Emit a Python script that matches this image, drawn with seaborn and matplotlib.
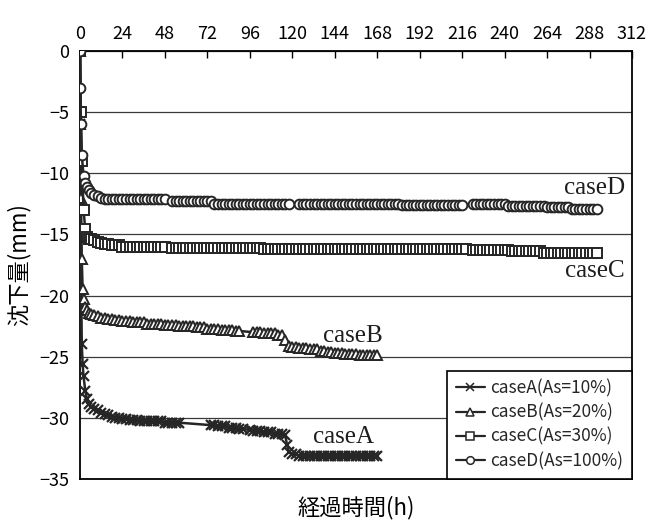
import numpy as np
import pandas as pd
import matplotlib
matplotlib.use("Agg")
import matplotlib.pyplot as plt
from matplotlib.lines import Line2D
import seaborn as sns

# ---- settlement records (time in hours, settlement in mm) ----
time_A = [0, 0.25, 0.5, 0.75, 1, 1.5, 2, 3, 4, 5, 6, 8,
          10, 12, 14, 16, 18, 20, 22, 24, 26, 28, 30, 32, 34, 36, 38, 40, 42, 44, 46, 48, 50, 52, 54, 56,
          74, 76, 78, 80, 82, 84, 86, 88, 90, 92,
          96, 98, 100, 102, 104, 106, 108, 110, 112, 114, 116,
          117, 118,
          120, 122, 124, 126, 128, 130, 132, 134, 136, 138, 140, 142, 144, 146, 148, 150, 152, 154, 156,
          158, 160, 162, 164, 166, 168]
settle_A = [0, -6, -13, -20, -24, -25.6, -26.6, -27.8, -28.5, -28.9, -29.1, -29.3,
            -29.4, -29.6, -29.7, -29.8, -29.9, -30.0, -30.0, -30.1, -30.1, -30.2, -30.2, -30.2,
            -30.3, -30.3, -30.3, -30.3, -30.3, -30.3, -30.3, -30.4, -30.4, -30.4, -30.4, -30.4,
            -30.6, -30.6, -30.7, -30.7, -30.7, -30.8, -30.8, -30.8, -30.9, -30.9,
            -31.0, -31.1, -31.1, -31.1, -31.2, -31.2, -31.2, -31.3, -31.3, -31.3, -31.4,
            -32.2, -32.8,
            -33.0, -33.0, -33.1, -33.1, -33.1, -33.1, -33.1, -33.1, -33.1, -33.1, -33.1, -33.1, -33.1,
            -33.1, -33.1, -33.1, -33.1, -33.1, -33.1, -33.1, -33.1, -33.1, -33.1, -33.1, -33.1]

time_B = [0, 0.25, 0.5, 1, 1.5, 2, 3, 4, 5, 6,
          8, 10, 12, 14, 16, 18, 20, 22, 24, 26, 28, 30, 32, 34, 36, 38, 40, 42, 44, 46, 48,
          50, 52, 54, 56, 58, 60, 62, 64, 66, 68, 70, 72, 74, 76, 78, 80, 82, 84, 86, 88, 90,
          98, 100, 102, 104, 106, 108, 110, 112, 114,
          116, 118,
          120, 122, 124, 126, 128, 130, 132, 134, 136, 138, 140, 142, 144, 146, 148, 150, 152, 154, 156,
          158, 160, 162, 164, 166, 168]
settle_B = [0, -6, -12, -17, -19.5, -20.3, -20.9, -21.2, -21.4, -21.5,
            -21.6, -21.7, -21.8, -21.8, -21.9, -21.9, -22.0, -22.0, -22.1, -22.1, -22.1, -22.2,
            -22.2, -22.2, -22.2, -22.3, -22.3, -22.3, -22.3, -22.3, -22.4,
            -22.4, -22.4, -22.4, -22.5, -22.5, -22.5, -22.5, -22.5, -22.6, -22.6, -22.6, -22.7,
            -22.7, -22.7, -22.7, -22.8, -22.8, -22.8, -22.8, -22.9, -22.9,
            -23.0, -23.0, -23.0, -23.1, -23.1, -23.1, -23.1, -23.2, -23.2,
            -23.6, -24.1,
            -24.2, -24.2, -24.3, -24.3, -24.3, -24.4, -24.4, -24.4, -24.5, -24.5, -24.6, -24.6, -24.7,
            -24.7, -24.7, -24.8, -24.8, -24.8, -24.8, -24.9, -24.9, -24.9, -24.9, -24.9, -24.9]

time_C = [0, 0.5, 1, 2, 3, 4, 5,
          6, 8, 10, 12, 14, 16, 18, 20, 22, 24, 26, 28, 30, 32, 34, 36, 38, 40, 42, 44, 46, 48,
          52, 54, 56, 58, 60, 62, 64, 66, 68, 70, 72, 74, 76, 78, 80, 82, 84, 86, 88, 90, 92, 94,
          96, 98, 100, 102,
          104, 106, 108, 110, 112, 114, 116, 118, 120, 122, 124, 126, 128, 130, 132, 134, 136, 138,
          140, 142, 144, 146, 148, 150, 152, 154, 156, 158, 160, 162, 164, 166, 168, 170, 172, 174,
          176, 178, 180, 182, 184, 186, 188, 190, 192, 194, 196, 198, 200, 202, 204, 206, 208, 210,
          212, 214, 216, 218,
          222, 224, 226, 228, 230, 232, 234, 236, 238, 240, 242,
          244, 246, 248, 250, 252, 254, 256, 258, 260,
          262, 264, 266, 268, 270, 272, 274, 276, 278, 280, 282, 284, 286, 288, 290, 292]
settle_C = [0, -5, -9, -13, -14.6, -15.2, -15.4,
            -15.4, -15.5, -15.6, -15.7, -15.8, -15.8, -15.9, -15.9, -15.9, -16.0, -16.0, -16.0,
            -16.0, -16.0, -16.0, -16.0, -16.0, -16.0, -16.0, -16.0, -16.0, -16.0,
            -16.1, -16.1, -16.1, -16.1, -16.1, -16.1, -16.1, -16.1, -16.1, -16.1, -16.1, -16.1,
            -16.1, -16.1, -16.1, -16.1, -16.1, -16.1, -16.1, -16.1, -16.1, -16.1, -16.1, -16.1,
            -16.1, -16.1,
            -16.2, -16.2, -16.2, -16.2, -16.2, -16.2, -16.2, -16.2, -16.2, -16.2, -16.2, -16.2,
            -16.2, -16.2, -16.2, -16.2, -16.2, -16.2, -16.2, -16.2, -16.2, -16.2, -16.2, -16.2,
            -16.2, -16.2, -16.2, -16.2, -16.2, -16.2, -16.2, -16.2, -16.2, -16.2, -16.2, -16.2,
            -16.2, -16.2, -16.2, -16.2, -16.2, -16.2, -16.2, -16.2, -16.2, -16.2, -16.2, -16.2,
            -16.2, -16.2, -16.2, -16.2, -16.2, -16.2, -16.2, -16.2, -16.2, -16.2,
            -16.3, -16.3, -16.3, -16.3, -16.3, -16.3, -16.3, -16.3, -16.3, -16.3, -16.3,
            -16.4, -16.4, -16.4, -16.4, -16.4, -16.4, -16.4, -16.4, -16.4,
            -16.5, -16.5, -16.5, -16.5, -16.5, -16.5, -16.5, -16.5, -16.5, -16.5, -16.5, -16.5,
            -16.5, -16.5, -16.5, -16.5]

time_D = [0, 0.25, 0.5, 1, 2, 3, 4, 5, 6,
          8, 10, 12, 14, 16, 18, 20, 22, 24, 26, 28, 30, 32, 34, 36, 38, 40, 42, 44, 46, 48,
          52, 54, 56, 58, 60, 62, 64, 66, 68, 70, 72, 74,
          76, 78, 80, 82, 84, 86, 88, 90, 92, 94, 96, 98, 100, 102, 104, 106, 108, 110, 112, 114,
          116, 118,
          124, 126, 128, 130, 132, 134, 136, 138, 140, 142, 144, 146, 148, 150, 152, 154, 156, 158,
          160, 162, 164, 166, 168, 170, 172, 174, 176, 178, 180,
          182, 184, 186, 188, 190, 192, 194, 196, 198, 200, 202, 204, 206, 208, 210, 212, 214, 216,
          222, 224, 226, 228, 230, 232, 234, 236, 238, 240,
          242, 244, 246, 248, 250, 252, 254, 256, 258, 260, 262,
          264, 266, 268, 270, 272, 274, 276,
          278, 280, 282, 284, 286, 288, 290, 292]
settle_D = [0, -3, -6, -8.5, -10.2, -10.8, -11.1, -11.4, -11.6,
            -11.8, -11.9, -12.0, -12.1, -12.1, -12.1, -12.1, -12.1, -12.1, -12.1, -12.1, -12.1,
            -12.1, -12.1, -12.1, -12.1, -12.1, -12.1, -12.1, -12.1, -12.1,
            -12.3, -12.3, -12.3, -12.3, -12.3, -12.3, -12.3, -12.3, -12.3, -12.3, -12.3, -12.3,
            -12.5, -12.5, -12.5, -12.5, -12.5, -12.5, -12.5, -12.5, -12.5, -12.5, -12.5, -12.5,
            -12.5, -12.5, -12.5, -12.5, -12.5, -12.5, -12.5, -12.5, -12.5, -12.5,
            -12.5, -12.5, -12.5, -12.5, -12.5, -12.5, -12.5, -12.5, -12.5, -12.5, -12.5, -12.5,
            -12.5, -12.5, -12.5, -12.5, -12.5, -12.5, -12.5, -12.5, -12.5, -12.5, -12.5, -12.5,
            -12.5, -12.5, -12.5, -12.5, -12.5,
            -12.6, -12.6, -12.6, -12.6, -12.6, -12.6, -12.6, -12.6, -12.6, -12.6, -12.6, -12.6,
            -12.6, -12.6, -12.6, -12.6, -12.6, -12.6,
            -12.5, -12.5, -12.5, -12.5, -12.5, -12.5, -12.5, -12.5, -12.5, -12.5,
            -12.7, -12.7, -12.7, -12.7, -12.7, -12.7, -12.7, -12.7, -12.7, -12.7, -12.7,
            -12.8, -12.8, -12.8, -12.8, -12.8, -12.8, -12.8,
            -12.9, -12.9, -12.9, -12.9, -12.9, -12.9, -12.9, -12.9]

case_names = ["caseA", "caseB", "caseC", "caseD"]
legend_labels = ["caseA(As=10%)", "caseB(As=20%)", "caseC(As=30%)", "caseD(As=100%)"]
x_ticks = [0, 24, 48, 72, 96, 120, 144, 168, 192, 216, 240, 264, 288, 312]
y_ticks = [0, -5, -10, -15, -20, -25, -30, -35]

series = {"caseA": (time_A, settle_A), "caseB": (time_B, settle_B),
          "caseC": (time_C, settle_C), "caseD": (time_D, settle_D)}
frames = [pd.DataFrame({"time": t, "settlement": v, "case": name})
          for name, (t, v) in series.items()]
data = pd.concat(frames, ignore_index=True)

# ---- styling ----
sns.set_theme(style="white")
plt.rcParams["font.family"] = ["Noto Sans CJK JP", "DejaVu Sans"]
plt.rcParams["axes.unicode_minus"] = True

ink = "#262626"
marker_style = {
    "caseA": dict(marker="x", ms=7, mew=1.6, mfc=ink, mec=ink),
    "caseB": dict(marker="^", ms=7, mew=1.4, mfc="white", mec=ink),
    "caseC": dict(marker="s", ms=7, mew=1.4, mfc="white", mec=ink),
    "caseD": dict(marker="o", ms=7, mew=1.4, mfc="white", mec=ink),
}

fig = plt.figure(figsize=(6.53, 5.24), dpi=100)
ax = fig.add_axes([0.1225, 0.086, 0.8453, 0.8168])

for name in case_names:
    sub = data[data["case"] == name]
    st = marker_style[name]
    sns.lineplot(data=sub, x="time", y="settlement", ax=ax, sort=False, estimator=None,
                 color=ink, linewidth=1.8, marker=st["marker"], markersize=st["ms"],
                 markeredgewidth=st["mew"], markerfacecolor=st["mfc"],
                 markeredgecolor=st["mec"], legend=False, zorder=3)

ax.set_xlim(0, 312)
ax.set_ylim(-35, 0)
ax.set_xticks(x_ticks)
ax.set_yticks(y_ticks)
ax.xaxis.tick_top()
ax.xaxis.set_label_position("bottom")
ax.tick_params(axis="x", direction="in", length=5, width=1, colors="black",
               labelsize=13, pad=6, top=True, bottom=False)
ax.tick_params(axis="y", length=0, labelsize=13, pad=8, colors="black")

# horizontal grid lines
ax.yaxis.grid(True, color="#3a3a3a", linewidth=0.9)
ax.xaxis.grid(False)
ax.set_axisbelow(True)
for sp in ax.spines.values():
    sp.set_color("black")
    sp.set_linewidth(1.3)
    sp.set_visible(True)

ax.set_xlabel("経過時間(h)", fontsize=16, labelpad=12, color="black")
ax.set_ylabel("沈下量(mm)", fontsize=16, labelpad=6, color="black")

# case annotations
serif = ["Liberation Serif", "DejaVu Serif"]
ax.text(308, -11.2, "caseD", family=serif, fontsize=18, ha="right", va="center", color="#1e1e1e")
ax.text(308, -18.0, "caseC", family=serif, fontsize=18, ha="right", va="center", color="#1e1e1e")
ax.text(154, -23.3, "caseB", family=serif, fontsize=18, ha="center", va="center", color="#1e1e1e")
ax.text(149, -31.6, "caseA", family=serif, fontsize=18, ha="center", va="center", color="#1e1e1e")

handles = []
for name, lab in zip(case_names, legend_labels):
    st = marker_style[name]
    handles.append(Line2D([], [], color=ink, linewidth=1.6, marker=st["marker"],
                          markersize=st["ms"] - 1.5, markeredgewidth=1.1,
                          markerfacecolor=st["mfc"], markeredgecolor=st["mec"], label=lab))
leg = ax.legend(handles=handles, loc="lower right", bbox_to_anchor=(1.0, 0.0),
                borderaxespad=0, frameon=True, fancybox=False, framealpha=1,
                edgecolor="black", fontsize=12.5, handlelength=1.7, handletextpad=0.3,
                labelspacing=0.35, borderpad=0.5)
leg.get_frame().set_linewidth(1.2)

fig.savefig("out.png", dpi=100)
